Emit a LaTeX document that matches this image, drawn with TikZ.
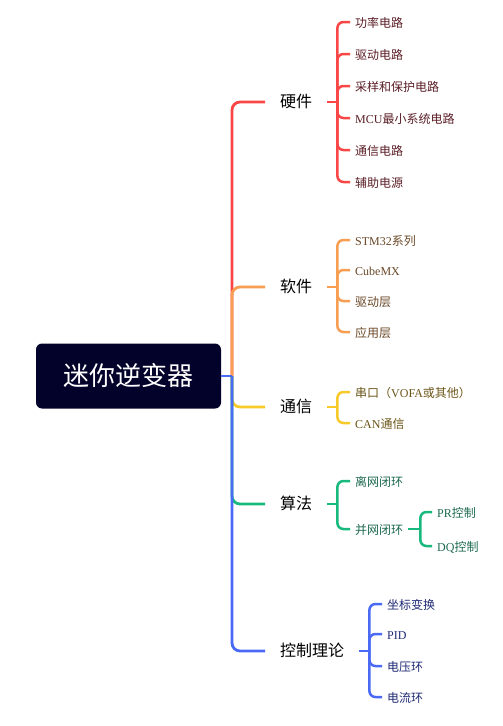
\documentclass[tikz,border=0pt]{standalone}
\usepackage{fontspec}
\setmainfont{Liberation Serif}
\newfontfamily\cjk{Noto Sans CJK SC}
\definecolor{cred}{HTML}{FA4646}
\definecolor{corange}{HTML}{F89E52}
\definecolor{cyellow}{HTML}{F7CA2A}
\definecolor{cgreen}{HTML}{18B97C}
\definecolor{cblue}{HTML}{4A6AF6}
\definecolor{rootfill}{HTML}{02022A}
\definecolor{tred}{HTML}{5B1E26}
\definecolor{torange}{HTML}{6A4828}
\definecolor{tyellow}{HTML}{6A5416}
\definecolor{tgreen}{HTML}{1C6A4E}
\definecolor{tblue}{HTML}{1F2A74}
\begin{document}
\begin{tikzpicture}[x=1pt,y=-1pt,
  rootbox/.style={fill=rootfill,rounded corners=6pt,minimum width=185pt,minimum height=65pt,
    text=white,font=\cjk\fontsize{26}{30}\selectfont,inner sep=0pt},
  branchbox/.style={anchor=west,inner xsep=15pt,inner ysep=0pt,text height=1.1em,text depth=0em,
    font=\cjk\fontsize{16}{18}\selectfont,text=black},
  leafbox/.style={anchor=west,inner xsep=5pt,inner ysep=0pt,text height=1.1em,text depth=0em,
    font=\fontsize{12}{14}\selectfont},
  trunk/.style={line width=2.8pt,rounded corners=8pt},
  twig/.style={line width=2.5pt,rounded corners=6pt},
]
\useasboundingbox (0,0) rectangle (503,726);

% root
\node[rootbox] (root) at (128.5,376) {迷你逆变器};
\coordinate (tr) at (232,376);

% branches
\node[branchbox] (hw) at (265,102) {硬件};
\node[branchbox] (sw) at (265,287) {软件};
\node[branchbox] (cm) at (265,407) {通信};
\node[branchbox] (al) at (265,504) {算法};
\node[branchbox] (ct) at (265,651) {控制理论};

% hardware leaves
\node[leafbox,text=tred] (hw1) at (350,22) {\cjk 功率电路};
\node[leafbox,text=tred] (hw2) at (350,54) {\cjk 驱动电路};
\node[leafbox,text=tred] (hw3) at (350,86) {\cjk 采样和保护电路};
\node[leafbox,text=tred] (hw4) at (350,118) {MCU{\cjk 最小系统电路}};
\node[leafbox,text=tred] (hw5) at (350,150) {\cjk 通信电路};
\node[leafbox,text=tred] (hw6) at (350,182) {\cjk 辅助电源};

% software leaves
\node[leafbox,text=torange] (sw1) at (350,240) {STM32{\cjk 系列}};
\node[leafbox,text=torange] (sw2) at (350,270) {CubeMX};
\node[leafbox,text=torange] (sw3) at (350,301) {\cjk 驱动层};
\node[leafbox,text=torange] (sw4) at (350,332) {\cjk 应用层};

% communication leaves
\node[leafbox,text=tyellow] (cm1) at (350,392) {{\cjk 串口（}VOFA{\cjk 或其他）}};
\node[leafbox,text=tyellow] (cm2) at (350,423) {CAN{\cjk 通信}};

% algorithm leaves
\node[leafbox,text=tgreen] (al1) at (350,481) {\cjk 离网闭环};
\node[leafbox,text=tgreen] (al2) at (350,529) {\cjk 并网闭环};
\node[leafbox,text=tgreen] (al21) at (432,512) {PR{\cjk 控制}};
\node[leafbox,text=tgreen] (al22) at (432,546) {DQ{\cjk 控制}};

% control theory leaves
\node[leafbox,text=tblue] (ct1) at (382,604) {\cjk 坐标变换};
\node[leafbox,text=tblue] (ct2) at (382,634) {PID};
\node[leafbox,text=tblue] (ct3) at (382,666) {\cjk 电压环};
\node[leafbox,text=tblue] (ct4) at (382,697) {\cjk 电流环};

% trunk connectors
\draw[trunk,cred] (tr) |- (hw.west);
\draw[trunk,corange] (tr) |- (sw.west);
\draw[trunk,cyellow] (tr) |- (cm.west);
\draw[trunk,cgreen] (tr) |- (al.west);
\draw[trunk,cblue] (tr) |- (ct.west);
\draw[line width=2.8pt,cblue] (root.east) -- (tr);

% hardware twigs
\draw[twig,cred] (hw.east) -- ++(10,0) coordinate (hwj);
\foreach \n in {hw1,hw2,hw3,hw4,hw5,hw6} \draw[twig,cred] (hwj) |- (\n.west);

% software twigs
\draw[twig,corange] (sw.east) -- ++(10,0) coordinate (swj);
\foreach \n in {sw1,sw2,sw3,sw4} \draw[twig,corange] (swj) |- (\n.west);

% communication twigs
\draw[twig,cyellow] (cm.east) -- ++(10,0) coordinate (cmj);
\foreach \n in {cm1,cm2} \draw[twig,cyellow] (cmj) |- (\n.west);

% algorithm twigs
\draw[twig,cgreen] (al.east) -- ++(10,0) coordinate (alj);
\foreach \n in {al1,al2} \draw[twig,cgreen] (alj) |- (\n.west);
\draw[twig,cgreen] (al2.east) -- ++(12,0) coordinate (al2j);
\foreach \n in {al21,al22} \draw[twig,cgreen] (al2j) |- (\n.west);

% control twigs
\draw[twig,cblue] (ct.east) -- ++(10,0) coordinate (ctj);
\foreach \n in {ct1,ct2,ct3,ct4} \draw[twig,cblue] (ctj) |- (\n.west);
\end{tikzpicture}
\end{document}
